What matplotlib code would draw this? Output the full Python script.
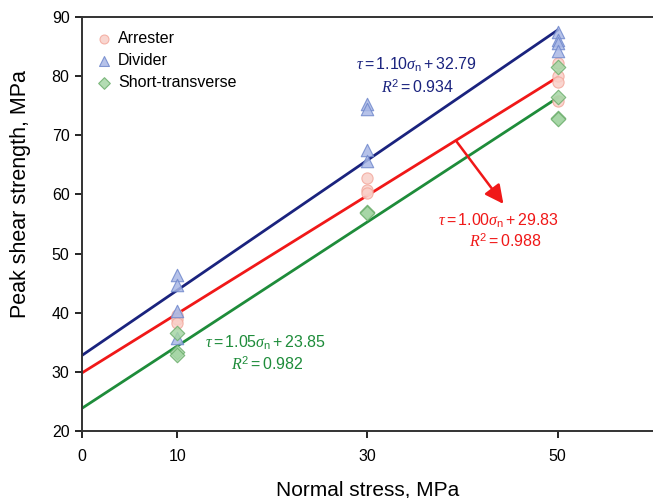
import matplotlib
matplotlib.use("Agg")
import matplotlib.pyplot as plt
import numpy as np

plt.rcParams['font.family'] = ['Liberation Sans', 'DejaVu Sans']
plt.rcParams['mathtext.fontset'] = 'custom'
plt.rcParams['mathtext.rm'] = 'Liberation Sans'
plt.rcParams['mathtext.it'] = 'Liberation Serif:italic'

# Data
arrester_x = [10, 10, 10, 30, 30, 30, 50, 50, 50, 50]
arrester_y = [39.6, 38.9, 38.3, 62.7, 60.8, 60.3, 82.2, 80.0, 79.0, 75.8]
divider_x = [10, 10, 10, 10, 30, 30, 30, 30, 50, 50, 50, 50]
divider_y = [46.4, 44.7, 40.3, 35.7, 75.3, 74.5, 67.5, 65.6, 87.5, 86.2, 85.6, 84.2]
short_x = [10, 10, 10, 30, 30, 50, 50, 50, 50]
short_y = [36.5, 33.4, 32.9, 57.1, 56.8, 81.6, 76.5, 73.0, 72.8]

fits = {
    'Divider': (1.10, 32.79, 0.934),
    'Arrester': (1.00, 29.83, 0.988),
    'Short-transverse': (1.05, 23.85, 0.982),
}

c_blue = '#1a237e'
c_red = '#f01818'
c_green = '#1e8c3a'

fig = plt.figure(figsize=(6.53, 4.98), dpi=100)
ax = fig.add_axes([0.1256, 0.1345, 0.874, 0.8313])

ax.scatter(arrester_x, arrester_y, marker='o', s=65, facecolor='#f9cfc8', edgecolor='#f3a89c',
           linewidth=0.8, alpha=0.85, label='Arrester', zorder=3)
ax.scatter(divider_x, divider_y, marker='^', s=80, facecolor='#a9b8e6', edgecolor='#7088cc',
           linewidth=0.8, alpha=0.85, label='Divider', zorder=3)
ax.scatter(short_x, short_y, marker='D', s=55, facecolor='#a6d6a6', edgecolor='#6cae6c',
           linewidth=0.8, alpha=0.85, label='Short-transverse', zorder=3)

xl = np.array([0, 50])
for name, col in [('Divider', c_blue), ('Arrester', c_red), ('Short-transverse', c_green)]:
    a, b, r2 = fits[name]
    ax.plot(xl, a * xl + b, color=col, lw=2, zorder=2)


def eq(a, b):
    return r'$\tau=%.2f\sigma_{\rm n}+%.2f$' % (a, b)


def r2txt(r):
    return r'$R^2=%.3f$' % r


fs = 11.5
a, b, r = fits['Divider']
ax.text(35.1, 81.9, eq(a, b), color=c_blue, fontsize=fs, ha='center', va='center')
ax.text(35.3, 78.2, r2txt(r), color=c_blue, fontsize=fs, ha='center', va='center')

a, b, r = fits['Arrester']
ax.text(43.8, 55.5, eq(a, b), color=c_red, fontsize=fs, ha='center', va='center')
ax.text(44.5, 52.1, r2txt(r), color=c_red, fontsize=fs, ha='center', va='center')

a, b, r = fits['Short-transverse']
ax.text(19.3, 34.9, eq(a, b), color=c_green, fontsize=fs, ha='center', va='center')
ax.text(19.5, 31.3, r2txt(r), color=c_green, fontsize=fs, ha='center', va='center')

ax.annotate('', xy=(44.3, 58.4), xytext=(39.4, 68.9),
            arrowprops=dict(arrowstyle='-|>', color=c_red, lw=1.8, mutation_scale=28,
                            shrinkA=0, shrinkB=0))

ax.set_xlim(0, 60)
ax.set_ylim(20, 90)
ax.set_xticks([0, 10, 30, 50])
ax.set_yticks(range(20, 91, 10))
ax.tick_params(direction='out', labelsize=11.5, length=5, width=1.2, pad=8)
ax.tick_params(axis='y', pad=4)
for s in ['left', 'bottom', 'top']:
    ax.spines[s].set_linewidth(1.4)
    ax.spines[s].set_color('#333333')
ax.spines['right'].set_visible(False)

ax.set_xlabel('Normal stress, MPa', fontsize=15)
ax.set_ylabel('Peak shear strength, MPa', fontsize=15.5)
ax.xaxis.set_label_coords(0.5, -0.1425)
ax.yaxis.set_label_coords(-0.108, 0.572)
ax.xaxis.label.set_va('center')
ax.yaxis.label.set_va('center')

leg = ax.legend(loc='upper left', bbox_to_anchor=(0.0, 0.995), frameon=False, fontsize=11.5,
                handletextpad=0.3, labelspacing=0.45, borderaxespad=0.35, handlelength=1.2,
                markerscale=0.8)

fig.savefig('out.png', dpi=100)
